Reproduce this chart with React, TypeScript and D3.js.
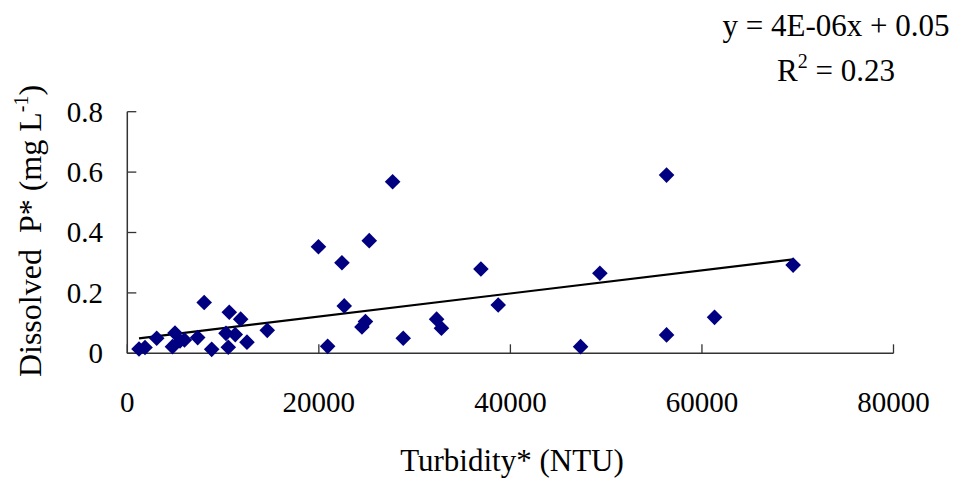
import React from "react";
import * as d3 from "d3";

const turbidity = [
  1221, 1848, 3069, 4718, 4979, 5501, 5971, 7349, 8027, 8810,
  10303, 10647, 10543, 11273, 11837, 12495, 14614, 19958, 20919, 22411,
  22651, 24499, 24864, 25261, 27704, 28810, 32296, 32797, 36921, 38727,
  47328, 49343, 56305, 56305, 61315, 69520,
];
const dissolvedP = [
  0.014, 0.019, 0.05, 0.022, 0.067, 0.041, 0.044, 0.052, 0.168, 0.013,
  0.066, 0.136, 0.02, 0.062, 0.113, 0.037, 0.076, 0.353, 0.023, 0.3,
  0.157, 0.087, 0.105, 0.373, 0.568, 0.05, 0.113, 0.083, 0.279, 0.16,
  0.022, 0.265, 0.59, 0.061, 0.119, 0.292,
];
const xTicks = [0, 20000, 40000, 60000, 80000];
const yTicks = [0, 0.2, 0.4, 0.6, 0.8];
const trendSlope = 3.83e-6;
const trendIntercept = 0.045;

export default function App() {
  const x = d3.scaleLinear().domain([0, 80000]).range([127.3, 893.5]);
  const y = d3.scaleLinear().domain([0, 0.8]).range([353.3, 111.7]);
  const font = "'Liberation Serif', 'Times New Roman', serif";
  const axisColor = "#333";
  const r = 7.8;
  const diamond = `M0,${-r}L${r},0L0,${r}L${-r},0Z`;
  const xMin = d3.min(turbidity) as number;
  const xMax = d3.max(turbidity) as number;
  const line = d3
    .line<number>()
    .x((v) => x(v))
    .y((v) => y(trendSlope * v + trendIntercept));
  const yFmt = (v: number) => (v === 0 ? "0" : d3.format(".1f")(v));

  return (
    <svg
      width={957}
      height={479}
      style={{ position: "absolute", left: 0, top: 0, background: "#fff" }}
      fontFamily={font}
    >
      {/* axes */}
      <line x1={x(0)} x2={x(80000)} y1={y(0)} y2={y(0)} stroke={axisColor} strokeWidth={1.5} />
      <line x1={x(0)} x2={x(0)} y1={y(0)} y2={y(0.8)} stroke={axisColor} strokeWidth={1.5} />
      {xTicks.map((t) => (
        <g key={"xt" + t}>
          <line x1={x(t)} x2={x(t)} y1={y(0)} y2={y(0) - 9} stroke={axisColor} strokeWidth={1.3} />
          <text x={x(t)} y={412} textAnchor="middle" fontSize={29} fill="#000">
            {t}
          </text>
        </g>
      ))}
      {yTicks.map((t) => (
        <g key={"yt" + t}>
          <line x1={x(0)} x2={x(0) + 9} y1={y(t)} y2={y(t)} stroke={axisColor} strokeWidth={1.3} />
          <text x={103} y={y(t)} dy="0.34em" textAnchor="end" fontSize={29} fill="#000">
            {yFmt(t)}
          </text>
        </g>
      ))}

      {/* trend line */}
      <path d={line([xMin, xMax]) || ""} stroke="#000" strokeWidth={2.2} fill="none" />

      {/* points */}
      {turbidity.map((tv, i) => (
        <path
          key={"p" + i}
          d={diamond}
          transform={`translate(${x(tv)},${y(dissolvedP[i])})`}
          fill="#000080"
        />
      ))}

      {/* axis titles */}
      <text x={512} y={471} textAnchor="middle" fontSize={31} fill="#000">
        Turbidity* (NTU)
      </text>
      <text
        transform="translate(41,231) rotate(-90)"
        textAnchor="middle"
        fontSize={32}
        fill="#000"
        style={{ whiteSpace: "pre" }}
      >
        <tspan>Dissolved  P* (mg L</tspan>
        <tspan fontSize={20} dy={-13}>-1</tspan>
        <tspan dy={13}>)</tspan>
      </text>

      {/* equation */}
      <text x={836} y={36} textAnchor="middle" fontSize={31} fill="#000">
        y = 4E-06x + 0.05
      </text>
      <text x={836} y={81} textAnchor="middle" fontSize={31} fill="#000">
        <tspan>R</tspan>
        <tspan fontSize={20} dy={-13}>2</tspan>
        <tspan dy={13}> = 0.23</tspan>
      </text>
    </svg>
  );
}
